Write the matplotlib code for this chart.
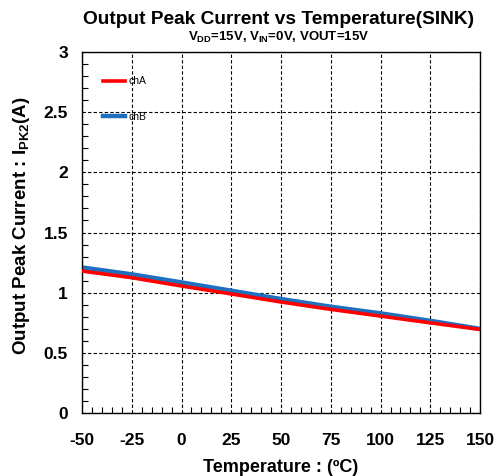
import matplotlib
matplotlib.use("Agg")
import matplotlib.pyplot as plt
from matplotlib.ticker import MultipleLocator

plt.rcParams['font.family'] = 'Liberation Sans'
plt.rcParams['font.weight'] = 'bold'
plt.rcParams['axes.unicode_minus'] = False
plt.rcParams['mathtext.fontset'] = 'custom'
plt.rcParams['mathtext.bf'] = 'Liberation Sans:bold'
plt.rcParams['mathtext.rm'] = 'Liberation Sans:bold'
plt.rcParams['mathtext.default'] = 'bf'

# temperature points (degC)
temp = [-50, -25, 0, 25, 50, 75, 100, 125, 150]
# peak sink current (A)
ch_a = [1.18, 1.125, 1.056, 0.99, 0.923, 0.862, 0.806, 0.75, 0.695]
ch_b = [1.21, 1.153, 1.086, 1.017, 0.948, 0.884, 0.829, 0.767, 0.70]

x_ticks = [-50, -25, 0, 25, 50, 75, 100, 125, 150]
y_ticks = [0, 0.5, 1, 1.5, 2, 2.5, 3]

fig = plt.figure(figsize=(4.97, 4.76), dpi=100)
ax = fig.add_axes([0.165, 0.132, 0.801, 0.759])

ax.plot(temp, ch_a, color='#ff0000', lw=2.6, label='chA', zorder=3)
ax.plot(temp, ch_b, color='#1f6fc0', lw=3.2, label='chB', zorder=2)

ax.set_xlim(-50, 150)
ax.set_ylim(0, 3)
ax.set_xticks(x_ticks)
ax.set_yticks(y_ticks)
ax.set_yticklabels(['0', '0.5', '1', '1.5', '2', '2.5', '3'])
ax.xaxis.set_minor_locator(MultipleLocator(5))
ax.yaxis.set_minor_locator(MultipleLocator(0.1))
ax.tick_params(which='major', length=0, labelsize=12.5)
ax.tick_params(axis='x', which='major', pad=14)
ax.tick_params(axis='y', which='major', pad=10)
ax.tick_params(which='minor', direction='in', length=4, width=0.8, color='black')
for lbl in ax.get_xticklabels() + ax.get_yticklabels():
    lbl.set_fontweight('bold')

ax.grid(True, which='major', color='black', linestyle=(0, (3, 2)), linewidth=0.8)
for s in ax.spines.values():
    s.set_linewidth(1.0)
    s.set_color('black')

ax.set_xlabel('Temperature : (ºC)', fontsize=13, fontweight='bold', labelpad=8)
ax.set_ylabel(r'Output Peak Current : I$_{PK2}$(A)', fontsize=13.5,
              fontweight='bold')
ax.yaxis.set_label_coords(-0.125, 0.52)

fig.text(0.56, 0.958, 'Output Peak Current vs Temperature(SINK)',
         ha='center', va='center', fontsize=13.8, fontweight='bold')
fig.text(0.56, 0.921, r'V$_{DD}$=15V, V$_{IN}$=0V, VOUT=15V',
         ha='center', va='center', fontsize=9.5, fontweight='bold')

leg = ax.legend(loc='upper left', bbox_to_anchor=(0.028, 0.958), frameon=False,
                handlelength=2.2, handletextpad=0.3, labelspacing=2.45,
                prop={'size': 7.5, 'weight': 'normal'})

fig.savefig('out.png', dpi=100)
